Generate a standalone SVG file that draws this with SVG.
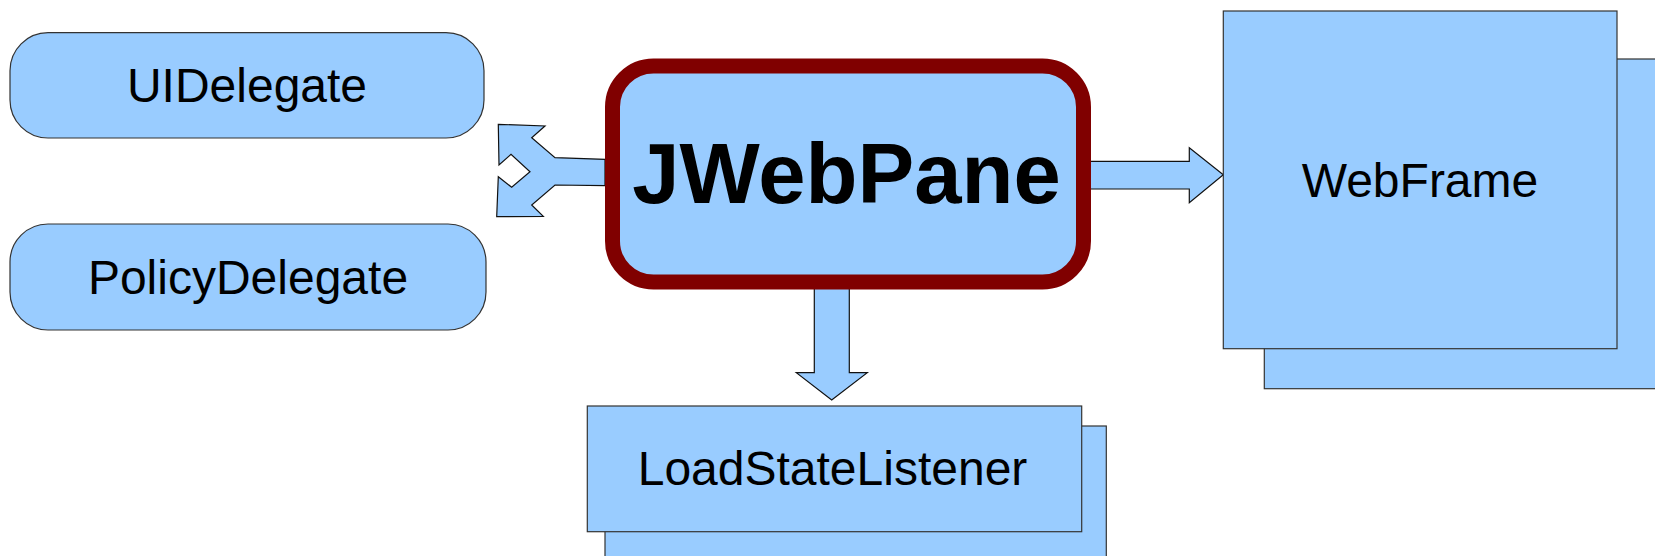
<svg xmlns="http://www.w3.org/2000/svg" width="1655" height="556" viewBox="0 0 1655 556">
  <style>
    .box { fill: #99ccff; stroke: #333333; stroke-width: 1.2; }
    .arrow { fill: #99ccff; stroke: #111111; stroke-width: 1.2; stroke-linejoin: miter; }
    .main { fill: #99ccff; stroke: #800000; stroke-width: 15; }
    .label { font-family: "Liberation Sans", Arial, sans-serif; font-size: 48px; fill: #000000; text-anchor: middle; }
    .title { font-family: "Liberation Sans", Arial, sans-serif; font-weight: bold; fill: #000000; text-anchor: middle; }
  </style>
  <rect width="1655" height="556" fill="#ffffff"/>

  <g id="connectors">
    <!-- forked arrow pointing to the two delegates -->
    <path class="arrow" d="M498.3,124.3 L545,126 L531.7,137.7 L555,157.7 L605,159.3 L605,185.7 L555,185 L531.7,205 L543.3,216.3 L496.7,216.7 L498.3,176.7 L511.7,187.3 L530,171.7 L511,154.3 L499,165 Z"/>
    <!-- arrow to WebFrame -->
    <path class="arrow" d="M1089,161.3 L1189.3,161.3 L1189.3,147.7 L1223.3,174.7 L1189.3,202.7 L1189.3,189 L1089,189 Z"/>
    <!-- arrow to LoadStateListener -->
    <path class="arrow" d="M814.3,287.3 L849.3,287.3 L849.3,372.7 L867.3,372.7 L831.7,400 L796.3,372.7 L814.3,372.7 Z"/>
  </g>

  <g id="ui-delegate">
    <rect class="box" x="10" y="32.7" width="474" height="105.3" rx="38" ry="38"/>
    <text class="label" x="247" y="101.7">UIDelegate</text>
  </g>

  <g id="policy-delegate">
    <rect class="box" x="10" y="224" width="476" height="106" rx="38" ry="38"/>
    <text class="label" x="248" y="294">PolicyDelegate</text>
  </g>

  <g id="jwebpane">
    <rect class="main" x="612.5" y="66" width="471" height="216" rx="41" ry="41"/>
    <text class="title" x="846.5" y="203.3" font-size="85">JWebPane</text>
  </g>

  <g id="webframe">
    <rect class="box" x="1264.3" y="59" width="400" height="329.7"/>
    <rect class="box" x="1223.3" y="11" width="393.7" height="337.7"/>
    <text class="label" x="1420" y="196.7">WebFrame</text>
  </g>

  <g id="load-state-listener">
    <rect class="box" x="605" y="426" width="501.3" height="140"/>
    <rect class="box" x="587.3" y="406" width="494.4" height="125.7"/>
    <text class="label" x="832.5" y="485">LoadStateListener</text>
  </g>
</svg>
